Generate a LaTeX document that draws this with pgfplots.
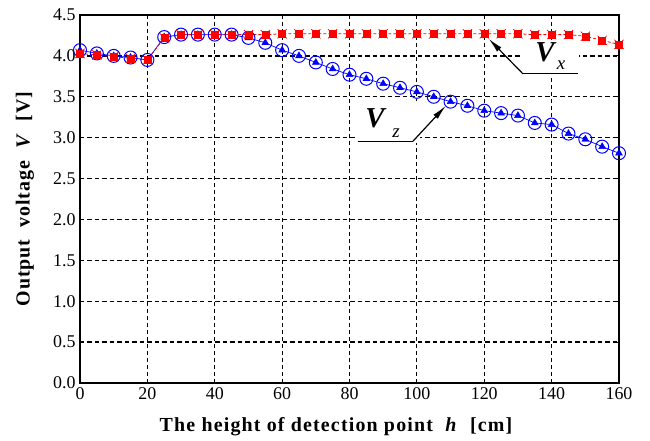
\documentclass[border=0pt]{standalone}
\usepackage{fontspec}
\setmainfont{Liberation Serif}
\usepackage{pgfplots}
\pgfplotsset{compat=1.18}
\usepackage{pgfplotstable}
\usetikzlibrary{arrows.meta}

% V_x : red squares
\pgfplotstableread{
h V
0 4.03
5 4.01
10 3.99
15 3.97
20 3.95
25 4.22
30 4.26
35 4.26
40 4.26
45 4.26
50 4.26
55 4.26
60 4.27
65 4.27
70 4.27
75 4.27
80 4.27
85 4.27
90 4.27
95 4.27
100 4.27
105 4.27
110 4.27
115 4.27
120 4.27
125 4.27
130 4.27
135 4.26
140 4.26
145 4.26
150 4.24
155 4.19
160 4.14
}\vx

% V_z : blue circles
\pgfplotstableread{
h V
0 4.07
5 4.03
10 4.00
15 3.98
20 3.95
25 4.23
30 4.26
35 4.26
40 4.26
45 4.26
50 4.22
55 4.16
60 4.07
65 4.00
70 3.92
75 3.84
80 3.77
85 3.72
90 3.66
95 3.61
100 3.56
105 3.50
110 3.44
115 3.39
120 3.33
125 3.30
130 3.27
135 3.18
140 3.16
145 3.05
150 2.98
155 2.89
160 2.81
}\vz

\definecolor{pblue}{RGB}{0,0,255}
\definecolor{pred}{RGB}{255,0,0}

\begin{document}
\begin{tikzpicture}
\begin{axis}[
  scale only axis, width=539bp, height=368bp,
  xmin=0, xmax=160, ymin=0, ymax=4.5,
  xtick={0,20,40,60,80,100,120,140,160},
  ytick={0,0.5,1,1.5,2,2.5,3,3.5,4,4.5},
  /pgf/number format/assume math mode=true,
  tick label style={font=\fontsize{18}{20}\selectfont, black},
  xticklabel style={yshift=-1bp},
  yticklabel style={xshift=-1bp, /pgf/number format/.cd, fixed, fixed zerofill, precision=1},
  tick align=inside, major tick length=4bp,
  tick style={black, line width=0.8bp},
  axis line style={black, line width=1.6bp},
  grid=major,
  x grid style={black, line width=0.9bp, dash pattern=on 4bp off 3bp},
  y grid style={black, line width=1.4bp, dash pattern=on 4.5bp off 3bp},
  xlabel={\fontsize{20}{22}\selectfont\bfseries\addfontfeatures{LetterSpace=6}The height of detection point\ \ \textit{h}\ \ [cm]},
  ylabel={\fontsize{20}{22}\selectfont\bfseries\addfontfeatures{LetterSpace=5}Output\ \ voltage\ \ \textit{V}\ \ [V]},
  xlabel style={at={(axis description cs:0.475,-0.12)}, anchor=center},
  ylabel style={at={(axis description cs:-0.102,0.5)}, anchor=center},
]
% white patches behind the annotations
\fill[white] (axis cs:82.5,2.94) rectangle (axis cs:101,3.45);
\fill[white] (axis cs:131.2,3.77) rectangle (axis cs:148,4.17);

\addplot[pblue, line width=0.7bp, mark=o, mark size=6.5bp,
  mark options={solid, line width=1bp}] table[x=h, y=V] {\vz};
\addplot[pblue, only marks, mark=triangle*, mark size=4bp] table[x=h, y=V] {\vz};

\addplot[pred, line width=0.8bp, dash pattern=on 3bp off 2bp, mark=x, mark size=6.5bp,
  mark options={solid, line width=0.7bp}] table[x=h, y=V] {\vx};
\addplot[pred, only marks, mark=square*, mark size=3.5bp] table[x=h, y=V] {\vx};

% annotation V_z
\draw[black, line width=1.2bp] (axis cs:82.5,2.955) -- (axis cs:98.8,2.955);
\draw[black, line width=1.2bp, -{Latex[length=15bp,width=6bp]}] (axis cs:98.8,2.955) -- (axis cs:108.6,3.39);
\node[font=\fontsize{29}{32}\selectfont\bfseries\itshape] at (axis cs:87.6,3.24) {V};
\node[font=\fontsize{19}{20}\selectfont\itshape] at (axis cs:93.8,3.06) {z};

% annotation V_x
\draw[black, line width=1.2bp] (axis cs:131.5,3.78) -- (axis cs:147.9,3.78);
\draw[black, line width=1.2bp, -{Latex[length=15bp,width=6bp]}] (axis cs:131.5,3.78) -- (axis cs:121.3,4.21);
\node[font=\fontsize{29}{32}\selectfont\bfseries\itshape] at (axis cs:138,4.04) {V};
\node[font=\fontsize{19}{20}\selectfont\itshape] at (axis cs:142.8,3.89) {x};
\end{axis}
\pgfresetboundingbox
\path[use as bounding box] ([shift={(-80bp,-58bp)}]current axis.south west) rectangle ([shift={(31bp,15bp)}]current axis.north east);
\end{tikzpicture}
\end{document}
